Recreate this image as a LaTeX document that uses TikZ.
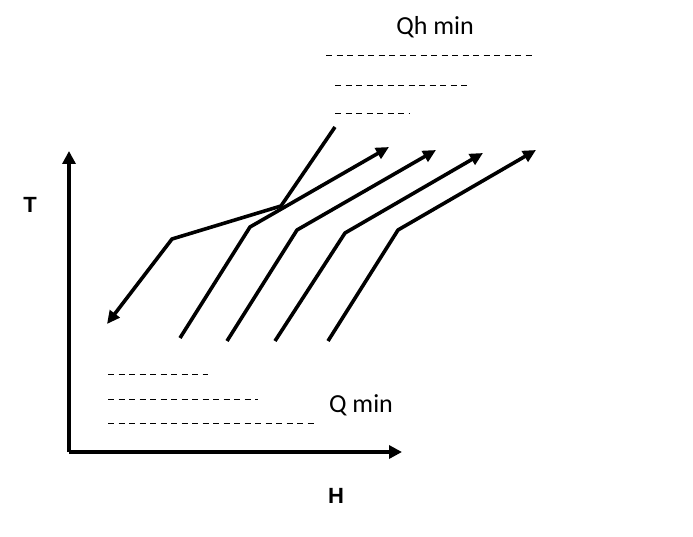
\documentclass[tikz,border=0pt]{standalone}
\usepackage{fontspec}
\setmainfont{Carlito}
\newfontfamily\arialfont{Liberation Sans}
\usetikzlibrary{arrows.meta}
\begin{document}
\begin{tikzpicture}[x=1pt,y=-1pt,
  stream/.style={line width=3.6pt, line join=miter},
  arr/.style={-{Triangle[length=13pt,width=12pt]}},
  dashln/.style={line width=0.9pt, dash pattern=on 6pt off 4.5pt},
  axis/.style={line width=3.6pt, -{Triangle[length=13pt,width=13pt]}},
  lbl/.style={font=\fontsize{26}{30}\selectfont, inner sep=0pt},
  axlbl/.style={font=\arialfont\bfseries\fontsize{22}{26}\selectfont, inner sep=0pt}]
\useasboundingbox (0,0) rectangle (693,537);
% axes
\coordinate (O) at (69,452);
\coordinate (Ty) at (69,151);
\coordinate (Hx) at (402,452);
\draw[axis] (O) -- (Ty);
\draw[axis] (O) -- (Hx);
\node[axlbl] (T) at (30,205) {T};
\node[axlbl] (H) at (336,496) {H};
% hot stream
\coordinate (h1) at (335,127);
\coordinate (h2) at (281,206);
\coordinate (h3) at (172,239);
\coordinate (h4) at (107,324);
\draw[stream,arr] (h1) -- (h2) -- (h3) -- (h4);
% cold streams
\coordinate (a1) at (180,338); \coordinate (a2) at (250,227); \coordinate (a3) at (389,147);
\coordinate (b1) at (227,341); \coordinate (b2) at (297,230); \coordinate (b3) at (436,150);
\coordinate (c1) at (275,341); \coordinate (c2) at (345,233); \coordinate (c3) at (483,153);
\coordinate (d1) at (328,341); \coordinate (d2) at (398,230); \coordinate (d3) at (536,150);
\draw[stream,arr] (a1) -- (a2) -- (a3);
\draw[stream,arr] (b1) -- (b2) -- (b3);
\draw[stream,arr] (c1) -- (c2) -- (c3);
\draw[stream,arr] (d1) -- (d2) -- (d3);
% top dashed lines
\coordinate (t1s) at (326,55); \coordinate (t1e) at (536,55);
\coordinate (t2s) at (335,85); \coordinate (t2e) at (468,85);
\coordinate (t3s) at (335,113); \coordinate (t3e) at (410,113);
\draw[dashln] (t1s) -- (t1e);
\draw[dashln] (t2s) -- (t2e);
\draw[dashln] (t3s) -- (t3e);
\node[lbl] (qh) at (435,27) {Qh min};
% bottom dashed lines
\coordinate (b1s) at (108,374); \coordinate (b1e) at (208,374);
\coordinate (b2s) at (108,399); \coordinate (b2e) at (258,399);
\coordinate (b3s) at (108,423); \coordinate (b3e) at (317,423);
\draw[dashln] (b1s) -- (b1e);
\draw[dashln] (b2s) -- (b2e);
\draw[dashln] (b3s) -- (b3e);
\node[lbl] (qm) at (361,405) {Q min};
\end{tikzpicture}
\end{document}
